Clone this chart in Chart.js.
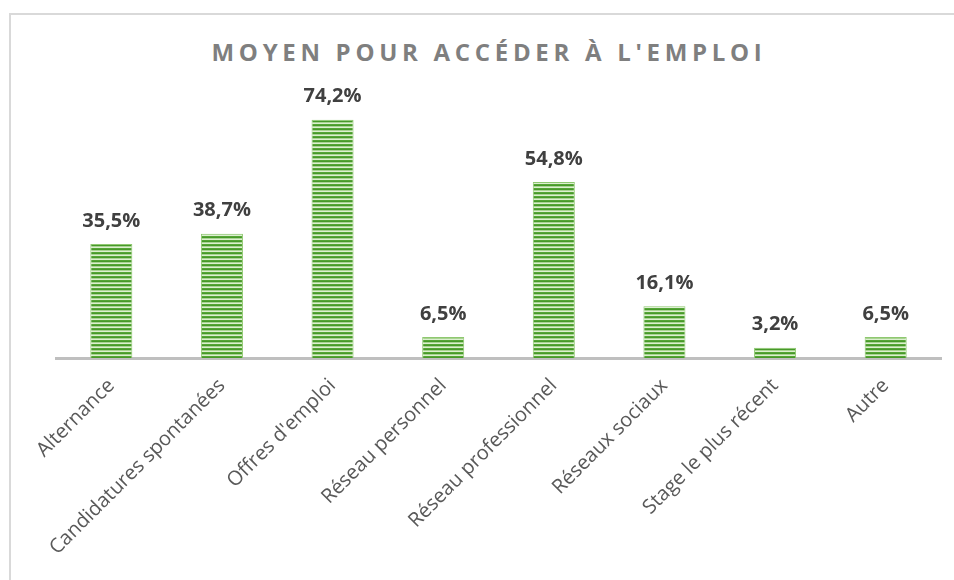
<!DOCTYPE html>
<html lang="fr">
<head>
<meta charset="utf-8">
<script src="https://cdn.jsdelivr.net/npm/chart.js@4/dist/chart.umd.min.js"></script>
<style>
  html, body { margin: 0; padding: 0; background: #fff; }
  #wrap { position: relative; width: 954px; height: 580px; overflow: hidden; }
  #frame { position: absolute; left: 9px; top: 13px; width: 960px; height: 600px;
           border-top: 2px solid #d9d9d9; border-left: 2px solid #d9d9d9; }
  #title { position: absolute; left: 0; top: 35px; width: 978px; text-align: center;
           font: bold 24px "Open Sans", sans-serif; letter-spacing: 4.7px; color: #7f7f7f; }
  canvas { position: absolute; left: 0; top: 0; }
</style>
</head>
<body>
<div id="wrap">
  <div id="frame"></div>
  <div id="title">MOYEN POUR ACCÉDER À L'EMPLOI</div>
  <canvas id="chart" width="954" height="580"></canvas>
</div>
<script>
  // ===== Data =====
  const categories = ["Alternance", "Candidatures spontanées", "Offres d'emploi", "Réseau personnel",
    "Réseau professionnel", "Réseaux sociaux", "Stage le plus récent", "Autre"];
  const values = [35.5, 38.7, 74.2, 6.5, 54.8, 16.1, 3.2, 6.5];

  // ===== Striped fill (horizontal lines) =====
  function stripePattern(ctx) {
    const c = document.createElement("canvas");
    c.width = 4; c.height = 4;
    const p = c.getContext("2d");
    const rows = ["#55a535", "#47992a", "#a9d492", "#dcefd0"];
    rows.forEach((col, i) => { p.fillStyle = col; p.fillRect(0, i, 4, 1); });
    return ctx.createPattern(c, "repeat");
  }

  // ===== Value labels above bars =====
  const valueLabels = {
    id: "valueLabels",
    afterDatasetsDraw(chart) {
      const ctx = chart.ctx;
      const meta = chart.getDatasetMeta(0);
      ctx.save();
      ctx.font = "bold 20px 'Open Sans', sans-serif";
      ctx.fillStyle = "#404040";
      ctx.textAlign = "center";
      ctx.textBaseline = "middle";
      meta.data.forEach((bar, i) => {
        const txt = values[i].toFixed(1).replace(".", ",") + "%";
        ctx.fillText(txt, bar.x, bar.y - 23);
      });
      ctx.restore();
    }
  };

  const ctx = document.getElementById("chart").getContext("2d");
  new Chart(ctx, {
    type: "bar",
    data: {
      labels: categories,
      datasets: [{
        data: values,
        backgroundColor: stripePattern(ctx),
        borderColor: "#8fc870",
        borderWidth: 1,
        barPercentage: 0.38,
        categoryPercentage: 1
      }]
    },
    options: {
      responsive: false,
      animation: false,
      layout: { padding: { left: 56, right: 13, top: 101, bottom: 0 } },
      plugins: { legend: { display: false }, tooltip: { enabled: false } },
      scales: {
        x: {
          grid: { display: false },
          border: { color: "#bfbfbf", width: 3 },
          ticks: {
            color: "#595959",
            font: { family: "'Open Sans', sans-serif", size: 20 },
            minRotation: 45, maxRotation: 45,
            padding: 8,
            autoSkip: false
          },
          afterFit: (s) => { s.height = 222; }
        },
        y: {
          display: false,
          min: 0,
          max: 80
        }
      }
    },
    plugins: [valueLabels]
  });
</script>
</body>
</html>
